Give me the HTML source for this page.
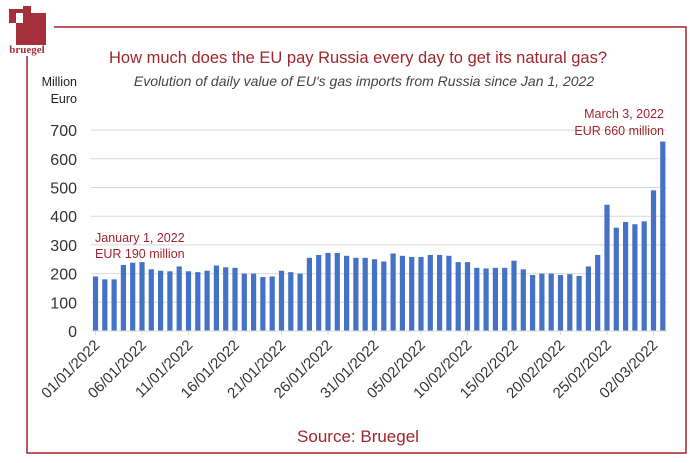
<!DOCTYPE html>
<html><head><meta charset="utf-8"><style>
body{margin:0;background:#fff;}
svg{display:block;font-family:"Liberation Sans",sans-serif;}
</style></head><body>
<svg width="690" height="463" viewBox="0 0 690 463">
<path d="M54 27 H686 V453 H27 V56" fill="none" stroke="#a0262e" stroke-width="1.5"/>
<rect x="16" y="13" width="30" height="32" fill="#a3303b"/>
<rect x="9" y="9" width="14" height="14" fill="#a3303b"/>
<rect x="16" y="13" width="7" height="10" fill="#fff"/>
<rect x="23" y="6" width="8" height="7" fill="#a3303b"/>
<rect x="16" y="16" width="6" height="6" fill="#fff"/>
<text x="27" y="53" font-size="11" font-family="Liberation Serif,serif" font-weight="bold" fill="#a3303b" text-anchor="middle">bruegel</text>
<text x="358" y="63" font-size="16.5" fill="#a0262e" text-anchor="middle">How much does the EU pay Russia every day to get its natural gas?</text>
<text x="364" y="86" font-size="14" font-style="italic" fill="#444" text-anchor="middle">Evolution of daily value of EU's gas imports from Russia since Jan 1, 2022</text>
<text x="77" y="86" font-size="12.5" fill="#222" text-anchor="end">Million</text>
<text x="77" y="103" font-size="12.5" fill="#222" text-anchor="end">Euro</text>
<g id="grid" stroke="#d9d9d9" stroke-width="1"></g>
<g id="yl" font-size="16" fill="#333" text-anchor="end"></g>
<g id="bars" fill="#4472c4"></g>
<g id="xl" font-size="15" fill="#333" text-anchor="end"></g>
<line x1="91" y1="331" x2="667" y2="331" stroke="#d9d9d9"/>
<text x="95" y="242" font-size="12.5" fill="#a0262e">January 1, 2022</text>
<text x="95" y="258" font-size="12.5" fill="#a0262e">EUR 190 million</text>
<text x="664" y="118" font-size="12.5" fill="#a0262e" text-anchor="end">March 3, 2022</text>
<text x="664" y="135" font-size="12.5" fill="#a0262e" text-anchor="end">EUR 660 million</text>
<text x="358" y="442" font-size="17" fill="#a0262e" text-anchor="middle">Source: Bruegel</text>
</svg>
<script>
const ns="http://www.w3.org/2000/svg";
function el(t,a,p,txt){const e=document.createElementNS(ns,t);for(const k in a)e.setAttribute(k,a[k]);if(txt!==undefined)e.textContent=txt;document.getElementById(p).appendChild(e);}
const y0=331,s=28.7/100;
for(let v=100;v<=700;v+=100){el('line',{x1:91,x2:667,y1:y0-v*s,y2:y0-v*s},'grid');}
for(let v=0;v<=700;v+=100){el('text',{x:77,y:y0-v*s+6},'yl',v);}
const d=[190,180,180,230,238,240,215,210,208,225,208,205,210,228,222,220,200,200,188,190,210,205,200,255,265,272,272,262,255,255,250,242,270,262,258,258,265,265,262,240,240,220,218,220,220,245,215,195,200,200,195,198,192,225,265,440,360,380,372,382,490,660];
d.forEach((v,i)=>{const cx=95.5+i*9.3;el('rect',{x:cx-2.6,y:y0-v*s,width:5.2,height:v*s},'bars');});
const labs=["01/01/2022","06/01/2022","11/01/2022","16/01/2022","21/01/2022","26/01/2022","31/01/2022","05/02/2022","10/02/2022","15/02/2022","20/02/2022","25/02/2022","02/03/2022"];
labs.forEach((l,j)=>{const cx=95.5+j*5*9.3;el('line',{x1:cx,x2:cx,y1:331,y2:335,stroke:'#d9d9d9'},'grid');el('text',{x:cx+5,y:346,transform:`rotate(-45 ${cx+5} 346)`},'xl',l);});
</script>
</body></html>
